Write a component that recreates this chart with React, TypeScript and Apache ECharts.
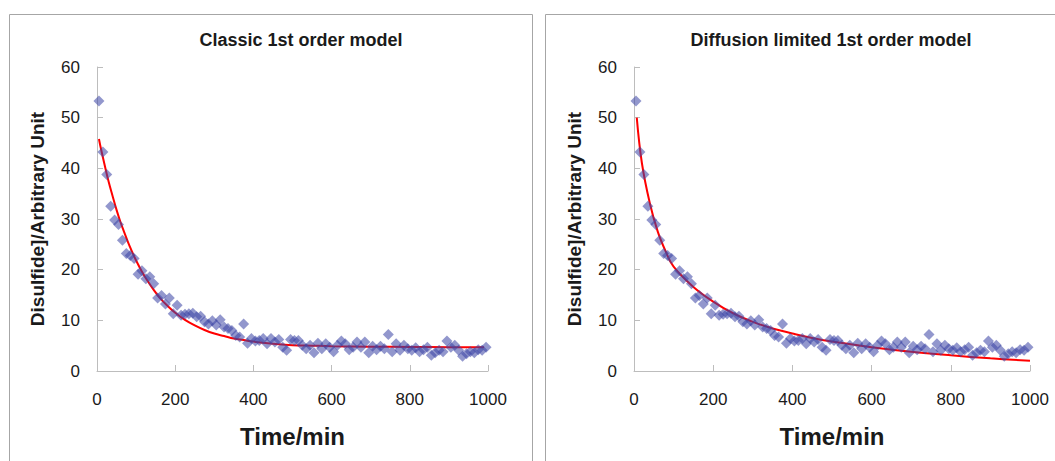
import React, { useEffect, useRef } from "react";
import * as echarts from "echarts";

// Measured time points (min) and disulfide values (arbitrary units)
const times: number[] = [
  5, 15, 25, 35, 45, 55, 65, 75, 85, 95,
  105, 115, 125, 135, 145, 155, 165, 175, 185, 195,
  205, 215, 225, 235, 245, 255, 265, 275, 285, 295,
  305, 315, 325, 335, 345, 355, 365, 375, 385, 395,
  405, 415, 425, 435, 445, 455, 465, 475, 485, 495,
  505, 515, 525, 535, 545, 555, 565, 575, 585, 595,
  605, 615, 625, 635, 645, 655, 665, 675, 685, 695,
  705, 715, 725, 735, 745, 755, 765, 775, 785, 795,
  805, 815, 825, 835, 845, 855, 865, 875, 885, 895,
  905, 915, 925, 935, 945, 955, 965, 975, 985, 995,
];
const measured: number[] = [
  53.3, 43.2, 38.8, 32.5, 29.8, 28.9, 25.8, 23.2, 22.8, 22.2,
  19.1, 19.8, 18.2, 18.6, 17.2, 14.4, 14.9, 13.2, 14.4, 11.3,
  13.0, 11.0, 11.2, 11.3, 11.4, 10.7, 10.8, 9.7, 9.3, 9.9,
  9.1, 10.1, 8.7, 8.4, 8.0, 7.0, 6.7, 9.3, 5.5, 6.4,
  5.9, 6.0, 6.4, 5.4, 6.4, 5.7, 6.2, 4.7, 4.1, 6.2,
  6.0, 6.0, 5.1, 4.4, 5.1, 3.6, 5.5, 4.4, 5.4, 4.7,
  3.8, 5.1, 5.9, 5.4, 4.2, 4.7, 5.7, 4.7, 5.7, 3.6,
  4.9, 4.2, 4.9, 4.4, 7.2, 3.8, 5.4, 4.1, 5.1, 4.4,
  4.1, 4.6, 3.8, 4.2, 4.7, 3.1, 3.6, 4.1, 3.8, 5.9,
  4.7, 5.1, 4.1, 2.9, 3.4, 3.8, 3.6, 4.2, 4.1, 4.7,
];

// Classic 1st order fit curve
const classicT: number[] = [5, 10, 20, 30, 40, 50, 60, 70, 80, 90, 100, 115, 130, 145, 160, 180, 200, 225, 250, 275, 300, 325, 350, 375, 400, 450, 500, 550, 600, 700, 800, 900, 990];
const classicV: number[] = [45.8, 43.9, 40.5, 37.3, 34.5, 31.8, 29.4, 27.3, 25.3, 23.5, 21.8, 19.6, 17.7, 16.0, 14.5, 12.9, 11.5, 10.1, 9.0, 8.1, 7.4, 6.9, 6.4, 6.1, 5.8, 5.4, 5.1, 5.0, 4.9, 4.8, 4.75, 4.7, 4.7];

// Diffusion limited 1st order fit curve
const diffT: number[] = [7, 20, 40, 60, 80, 100, 150, 200, 250, 300, 350, 400, 450, 500, 600, 700, 800, 900, 1000];
const diffV: number[] = [50.0, 41.0, 33.1, 27.5, 23.6, 20.6, 16.6, 13.7, 11.4, 9.7, 8.4, 7.4, 6.5, 5.8, 4.7, 3.8, 3.1, 2.5, 2.0];

const xTicks = { min: 0, max: 1000, interval: 200 };
const yTicks = { min: 0, max: 60, interval: 10 };

const titles: string[] = ["Classic 1st order model", "Diffusion limited 1st order model"];
const xName = "Time/min";
const yName = "Disulfide]/Arbitrary Unit";

const FONT = "'Liberation Sans', Arial, sans-serif";

export default function App() {
  const ref = useRef<HTMLDivElement>(null);

  useEffect(() => {
    if (!ref.current) return;
    const chart = echarts.init(ref.current, undefined, { renderer: "svg" });
    const scatterData = times.map((t, i) => [t, measured[i]]);
    const classicData = classicT.map((t, i) => [t, classicV[i]]);
    const diffData = diffT.map((t, i) => [t, diffV[i]]);

    const axisLine = { show: true, lineStyle: { color: "#bdbdbd", width: 1 } };
    const axisTick = { show: true, inside: true, length: 6, lineStyle: { color: "#bdbdbd" } };
    const labelStyle = { color: "#1a1a1a", fontSize: 17, fontFamily: FONT };

    const makeX = (gi: number) => ({
      type: "value",
      gridIndex: gi,
      ...xTicks,
      axisLine,
      axisTick,
      splitLine: { show: false },
      axisLabel: { ...labelStyle, margin: 20, formatter: (v: number) => String(v) },
      name: xName,
      nameLocation: "middle",
      nameGap: 53,
      nameTextStyle: { color: "#1a1a1a", fontSize: 24, fontWeight: "bold", fontFamily: FONT },
    });
    const makeY = (gi: number) => ({
      type: "value",
      gridIndex: gi,
      ...yTicks,
      axisLine,
      axisTick,
      splitLine: { show: false },
      axisLabel: { ...labelStyle, margin: 17 },
      name: yName,
      nameLocation: "middle",
      nameGap: 50,
      nameTextStyle: { color: "#1a1a1a", fontSize: 19, fontWeight: "bold", fontFamily: FONT },
    });

    const scatterStyle = {
      type: "scatter",
      symbol: "diamond",
      symbolSize: 11,
      itemStyle: { color: "rgba(60,70,165,0.7)" },
      z: 3,
    };
    const lineStyle = {
      type: "line",
      smooth: 0.4,
      showSymbol: false,
      symbol: "none",
      lineStyle: { color: "#ff0000", width: 2 },
      z: 2,
    };

    chart.setOption({
      animation: false,
      backgroundColor: "#ffffff",
      textStyle: { fontFamily: FONT },
      title: [
        {
          text: titles[0],
          left: 296,
          top: 26,
          textAlign: "center",
          textStyle: { fontSize: 18, fontWeight: "bold", color: "#1a1a1a", fontFamily: FONT },
        },
        {
          text: titles[1],
          left: 826,
          top: 26,
          textAlign: "center",
          textStyle: { fontSize: 18, fontWeight: "bold", color: "#1a1a1a", fontFamily: FONT },
        },
      ],
      graphic: [
        {
          type: "rect",
          shape: { x: 9.5, y: 14.5, width: 523, height: 470 },
          style: { fill: "none", stroke: "#a6a6a6", lineWidth: 1 },
          z: -1,
        },
        {
          type: "rect",
          shape: { x: 545.5, y: 14.5, width: 530, height: 470 },
          style: { fill: "none", stroke: "#a6a6a6", lineWidth: 1 },
          z: -1,
        },
      ],
      grid: [
        { left: 97, top: 67, width: 391, height: 304 },
        { left: 634, top: 67, width: 396, height: 304 },
      ],
      xAxis: [makeX(0), makeX(1)],
      yAxis: [makeY(0), makeY(1)],
      series: [
        { ...lineStyle, xAxisIndex: 0, yAxisIndex: 0, data: classicData },
        { ...scatterStyle, xAxisIndex: 0, yAxisIndex: 0, data: scatterData },
        { ...lineStyle, xAxisIndex: 1, yAxisIndex: 1, data: diffData },
        { ...scatterStyle, xAxisIndex: 1, yAxisIndex: 1, data: scatterData },
      ],
    });
    return () => chart.dispose();
  }, []);

  return (
    <div
      ref={ref}
      style={{ position: "absolute", left: 0, top: 0, width: 1055, height: 461 }}
    />
  );
}
